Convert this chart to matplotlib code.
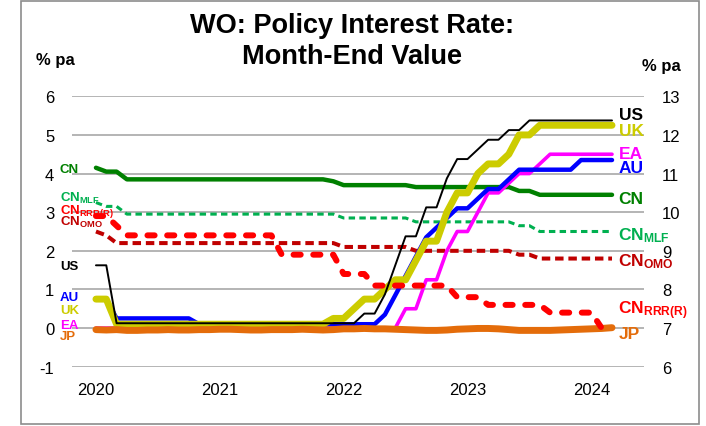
import matplotlib.pyplot as plt
from matplotlib.patches import Rectangle

# Arial-compatible text everywhere, bold mathtext for the subscripted CN labels.
plt.rcParams['font.family'] = ['Liberation Sans', 'DejaVu Sans']
plt.rcParams['mathtext.fontset'] = 'custom'
plt.rcParams['mathtext.rm'] = 'Liberation Sans'
plt.rcParams['mathtext.bf'] = 'Liberation Sans:bold'
plt.rcParams['axes.unicode_minus'] = False

# Month-end policy rates, Jan 2020 .. Mar 2024 (51 months).
years = ['2020', '2021', '2022', '2023', '2024']

us = [1.625, 1.625] + [0.125] * 10 + \
     [0.125] * 12 + \
     [0.125, 0.125, 0.375, 0.375, 0.875, 1.625, 2.375, 2.375, 3.125, 3.125, 3.875, 4.375] + \
     [4.375, 4.625, 4.875, 4.875, 5.125, 5.125] + [5.375] * 6 + \
     [5.375] * 3

uk = [0.75, 0.75] + [0.10] * 10 + \
     [0.10] * 11 + [0.25] + \
     [0.25, 0.50, 0.75, 0.75, 1.00, 1.25, 1.25, 1.75, 2.25, 2.25, 3.00, 3.50] + \
     [3.50, 4.00, 4.25, 4.25, 4.50, 5.00, 5.00] + [5.25] * 5 + \
     [5.25] * 3

au = [0.75, 0.75] + [0.25] * 8 + [0.10] * 2 + \
     [0.10] * 12 + \
     [0.10] * 4 + [0.35, 0.85, 1.35, 1.85, 2.35, 2.60, 2.85, 3.10] + \
     [3.10, 3.35, 3.60, 3.60, 3.85] + [4.10] * 6 + [4.35] + \
     [4.35] * 3

ea = [0.0] * 12 + \
     [0.0] * 12 + \
     [0.0] * 6 + [0.50, 0.50, 1.25, 1.25, 2.00, 2.50] + \
     [2.50, 3.00, 3.50, 3.50, 3.75, 4.00, 4.00, 4.25] + [4.50] * 4 + \
     [4.50] * 3

jp = [-0.04, -0.05, -0.04, -0.06, -0.06, -0.05, -0.05, -0.04, -0.05, -0.05, -0.04, -0.04] + \
     [-0.03, -0.03, -0.04, -0.05, -0.05, -0.04, -0.04, -0.04, -0.03, -0.04, -0.05, -0.04] + \
     [-0.02, -0.02, -0.01, -0.02, -0.02, -0.03, -0.04, -0.05, -0.06, -0.06, -0.05, -0.03] + \
     [-0.02, -0.01, -0.01, -0.02, -0.04, -0.06, -0.06, -0.06, -0.06, -0.05, -0.04, -0.03] + \
     [-0.02, -0.01, 0.01]

cn_lpr = [4.15, 4.05, 4.05] + [3.85] * 9 + \
         [3.85] * 11 + [3.80] + \
         [3.70] * 7 + [3.65] * 5 + \
         [3.65] * 5 + [3.55, 3.55] + [3.45] * 5 + \
         [3.45] * 3

cn_mlf = [3.25, 3.15, 3.15] + [2.95] * 9 + \
         [2.95] * 12 + \
         [2.85] * 7 + [2.75] * 5 + \
         [2.75] * 5 + [2.65, 2.65] + [2.50] * 5 + \
         [2.50] * 3

cn_omo = [2.50, 2.40] + [2.20] * 10 + \
         [2.20] * 12 + \
         [2.10] * 7 + [2.00] * 5 + \
         [2.00] * 5 + [1.90, 1.90] + [1.80] * 5 + \
         [1.80] * 3

# Weighted reserve requirement ratio, plotted on the right-hand axis.
cn_rrr = [9.9, 9.9, 9.65] + [9.4] * 9 + \
         [9.4] * 6 + [8.9] * 6 + \
         [8.4] * 3 + [8.1] * 8 + [7.8] + \
         [7.8, 7.8] + [7.6] * 6 + [7.4] * 4 + \
         [7.4, 7.0, 7.0]

months = list(range(len(us)))

W, H = 706, 427
fig = plt.figure(figsize=(W / 100, H / 100), dpi=100, facecolor='w')


def fx(x):
    return x / W


def fy(y):
    return 1 - y / H


# Plot area in pixel terms: left 72, right 644, top 97, bottom 368.
ax = fig.add_axes([fx(71.7), fy(367.7), (644 - 71.7) / W, (367.7 - 97.3) / H])
ax2 = ax.twinx()

ax.set_xlim(-2.35, 53.1)
ax.set_ylim(-1, 6)
ax2.set_ylim(6, 13)
ax.set_yticks(range(-1, 7))
ax2.set_yticks(range(6, 14))
ax.set_xticks([0, 12, 24, 36, 48])
ax.set_xticklabels(years)

for a in (ax, ax2):
    for s in a.spines.values():
        s.set_visible(False)
ax.tick_params(axis='y', length=0, pad=12.5, labelsize=12)
ax.tick_params(axis='x', length=0, pad=11, labelsize=12)
ax2.tick_params(axis='y', length=0, pad=13, labelsize=12)

ax.grid(axis='y', color='#a0a0a0', lw=1.1)
ax.set_axisbelow(True)

solid = dict(solid_capstyle='round', solid_joinstyle='round')
dashed = dict(dash_joinstyle='round')

# China rates first, then the rest, RRR last on top.
ax.plot(months, cn_lpr, color='#008000', lw=3.2, **solid)
ax.plot(months, cn_mlf, color='#00b050', lw=2.2, ls=(0, (2.1, 1.4)), **dashed)
ax.plot(months, cn_omo, color='#c00000', lw=2.9, ls=(0, (2.1, 1.2)), **dashed)
ax.plot(months, ea, color='#ff00ff', lw=2.6, **solid)
ax.plot(months, au, color='#0000ff', lw=3.2, **solid)
ax.plot(months, uk, color='#cccc00', lw=5.0, **solid)
ax.plot(months, us, color='black', lw=1.4, **solid)
ax.plot(months, jp, color='#e46c0a', lw=5.0, **solid)
ax2.plot(months, cn_rrr, color='#ff0000', lw=4.3, ls=(0, (1.2, 2.1)),
         dash_capstyle='round', **dashed)

# Title and axis units.
fig.text(fx(352), fy(33), 'WO: Policy Interest Rate:', ha='center', va='baseline',
         fontsize=19.5, fontweight='bold')
fig.text(fx(352), fy(63.5), 'Month-End Value', ha='center', va='baseline',
         fontsize=19.5, fontweight='bold')
fig.text(fx(36), fy(65), '% pa', ha='left', va='baseline', fontsize=12, fontweight='bold')
fig.text(fx(642), fy(71), '% pa', ha='left', va='baseline', fontsize=12, fontweight='bold')

# Series names at the start of the lines.
left_labels = [
    ('CN', 173, '#008000'),
    (r'$\mathbf{CN_{MLF}}$', 201.5, '#00b050'),
    (r'$\mathbf{CN_{RRR(R)}}$', 214, '#ff0000'),
    (r'$\mathbf{CN_{OMO}}$', 225.7, '#c00000'),
    ('US', 270.4, 'black'),
    ('AU', 301.4, '#0000ff'),
    ('UK', 314, '#cccc00'),
    ('EA', 328.7, '#ff00ff'),
    ('JP', 340.4, '#e46c0a'),
]
for txt, yb, c in left_labels:
    fig.text(fx(60), fy(yb), txt, ha='left', va='baseline', fontsize=9.5,
             fontweight='bold', color=c)

# Series names at the end of the lines.
right_labels = [
    ('US', 120, 'black'),
    ('UK', 136, '#cccc00'),
    ('EA', 159, '#ff00ff'),
    ('AU', 173, '#0000ff'),
    ('CN', 204, '#008000'),
    (r'$\mathbf{CN_{MLF}}$', 240, '#00b050'),
    (r'$\mathbf{CN_{OMO}}$', 266, '#c00000'),
    (r'$\mathbf{CN_{RRR(R)}}$', 314.5, '#ff0000'),
    ('JP', 339, '#e46c0a'),
]
for txt, yb, c in right_labels:
    fig.text(fx(618.5), fy(yb), txt, ha='left', va='baseline', fontsize=12.5,
             fontweight='bold', color=c)

# Frame round the whole chart.
fig.add_artist(Rectangle((fx(21), fy(425)), (699 - 21) / W, (425 - 1.5) / H,
                         transform=fig.transFigure, fill=False,
                         edgecolor='#8c8c8c', lw=1.2))

fig.savefig('out.png', dpi=100, facecolor='w')
